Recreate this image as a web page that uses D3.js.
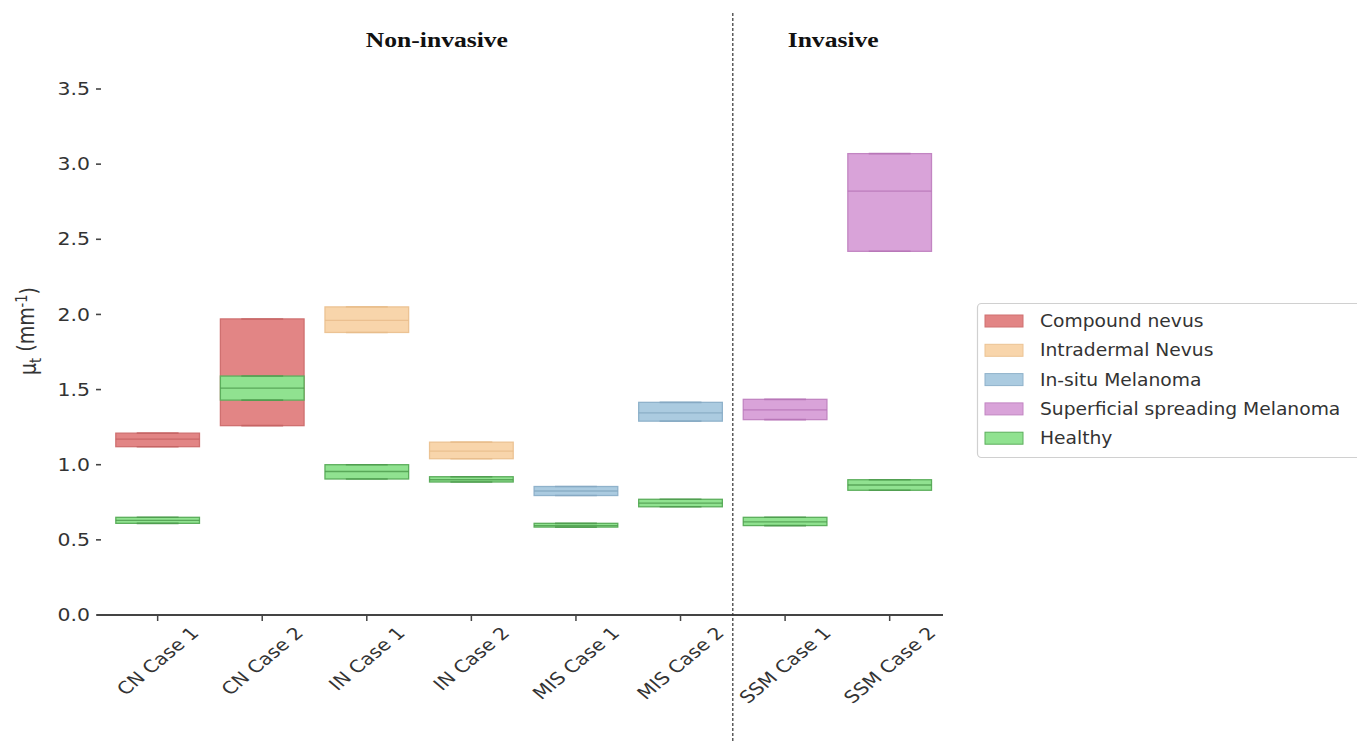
<!DOCTYPE html>
<html>
<head>
<meta charset="utf-8">
<script src="https://cdn.jsdelivr.net/npm/d3@7"></script>
<style>
  html, body { margin: 0; padding: 0; background: #fff; }
  svg { display: block; }
  text { font-family: "DejaVu Sans", sans-serif; fill: #333; }
</style>
</head>
<body>
<svg id="chart" width="1357" height="742"></svg>
<script>
// Attenuation coefficient per case: lesion box (q1, median, q3) and healthy skin box.
const cases = ["CN Case 1", "CN Case 2", "IN Case 1", "IN Case 2",
               "MIS Case 1", "MIS Case 2", "SSM Case 1", "SSM Case 2"];
const lesionType = ["Compound nevus", "Compound nevus", "Intradermal Nevus", "Intradermal Nevus",
                    "In-situ Melanoma", "In-situ Melanoma",
                    "Superficial spreading Melanoma", "Superficial spreading Melanoma"];
const lesionQ1  = [1.12, 1.26, 1.88, 1.04, 0.795, 1.29, 1.30, 2.42];
const lesionMed = [1.17, 1.55, 1.96, 1.09, 0.825, 1.345, 1.365, 2.82];
const lesionQ3  = [1.21, 1.97, 2.05, 1.15, 0.855, 1.415, 1.435, 3.07];
const healthyQ1  = [0.61, 1.43, 0.905, 0.885, 0.585, 0.72, 0.595, 0.83];
const healthyMed = [0.63, 1.51, 0.955, 0.90, 0.595, 0.745, 0.62, 0.865];
const healthyQ3  = [0.65, 1.59, 1.00, 0.92, 0.61, 0.77, 0.65, 0.90];
const yTicks = [0.0, 0.5, 1.0, 1.5, 2.0, 2.5, 3.0, 3.5];
const legendLabels = ["Compound nevus", "Intradermal Nevus", "In-situ Melanoma",
                      "Superficial spreading Melanoma", "Healthy"];
const sections = ["Non-invasive", "Invasive"];

const fills = {
  "Compound nevus": "#e28585",
  "Intradermal Nevus": "#f8d5ab",
  "In-situ Melanoma": "#abcbe0",
  "Superficial spreading Melanoma": "#d9a3d9",
  "Healthy": "#90e290"
};
const edges = {
  "Compound nevus": "#cf7070",
  "Intradermal Nevus": "#ecc394",
  "In-situ Melanoma": "#8fb2cb",
  "Superficial spreading Melanoma": "#c285c2",
  "Healthy": "#5cae5c"
};
const meds = {
  "Compound nevus": "#c46262",
  "Intradermal Nevus": "#e8bc8a",
  "In-situ Melanoma": "#84a8c2",
  "Superficial spreading Melanoma": "#b673b6",
  "Healthy": "#4c9a4c"
};

const SX = 1.2; // horizontal text stretch
const svg = d3.select("#chart");

const x = d3.scaleLinear().domain([0.42, 8.51]).range([97, 943]);
const y = d3.scaleLinear().domain([0, 3.5]).range([615, 89]);
const boxW = x(0.8) - x(0);

// rows for drawing
const lesionRows = cases.map((c, i) => ({pos: i + 1, type: lesionType[i], q1: lesionQ1[i], med: lesionMed[i], q3: lesionQ3[i]}));
const healthyRows = cases.map((c, i) => ({pos: i + 1, type: "Healthy", q1: healthyQ1[i], med: healthyMed[i], q3: healthyQ3[i]}));

function drawBoxes(rows, cls) {
  const g = svg.append("g").attr("class", cls);
  const b = g.selectAll("g").data(rows).join("g");
  b.append("rect")
    .attr("x", d => x(d.pos) - boxW / 2)
    .attr("y", d => y(d.q3))
    .attr("width", boxW)
    .attr("height", d => y(d.q1) - y(d.q3))
    .attr("fill", d => fills[d.type])
    .attr("stroke", d => edges[d.type])
    .attr("stroke-width", 1.3);
  b.append("line")
    .attr("x1", d => x(d.pos) - boxW / 2).attr("x2", d => x(d.pos) + boxW / 2)
    .attr("y1", d => y(d.med)).attr("y2", d => y(d.med))
    .attr("stroke", d => meds[d.type]).attr("stroke-width", 1.3).attr("opacity", 0.8);
  // caps coincide with box edges
  ["q1", "q3"].forEach(k => {
    b.append("line")
      .attr("x1", d => x(d.pos) - boxW / 4).attr("x2", d => x(d.pos) + boxW / 4)
      .attr("y1", d => y(d[k])).attr("y2", d => y(d[k]))
      .attr("stroke", d => meds[d.type]).attr("stroke-width", 1.6).attr("opacity", 0.8);
  });
}
drawBoxes(lesionRows, "lesion");
drawBoxes(healthyRows, "healthy");

// bottom spine and ticks
svg.append("line").attr("x1", 97).attr("x2", 943).attr("y1", y(0)).attr("y2", y(0))
  .attr("stroke", "#444").attr("stroke-width", 2);
svg.append("g").selectAll("line").data(cases).join("line")
  .attr("x1", (d, i) => x(i + 1)).attr("x2", (d, i) => x(i + 1))
  .attr("y1", y(0)).attr("y2", y(0) + 6)
  .attr("stroke", "#444").attr("stroke-width", 1.5);

// x tick labels, rotated 45 degrees and centred under each tick
const xl = svg.append("g").selectAll("g").data(cases).join("g");
xl.append("text")
  .attr("text-anchor", "middle")
  .attr("dominant-baseline", "central")
  .style("font-size", "17px")
  .text(d => d);
xl.attr("transform", function(d, i) {
  const L = this.querySelector("text").getComputedTextLength();
  const half = (L + 17) * Math.SQRT1_2 / 2;
  return `translate(${x(i + 1)},${y(0) + 9 + half}) scale(${SX},1) rotate(-45)`;
});

// y ticks and labels
svg.append("g").selectAll("line").data(yTicks).join("line")
  .attr("x1", 96).attr("x2", 101)
  .attr("y1", d => y(d)).attr("y2", d => y(d))
  .attr("stroke", "#444").attr("stroke-width", 1.6);
svg.append("g").selectAll("text").data(yTicks).join("text")
  .attr("transform", d => `translate(90,${y(d)}) scale(${SX},1)`)
  .attr("text-anchor", "end")
  .attr("dy", "0.36em")
  .style("font-size", "17px")
  .text(d => d3.format(".1f")(d));

// y axis title
const yt = svg.append("text")
  .attr("transform", `translate(36,331) scale(${SX},1) rotate(-90)`)
  .attr("text-anchor", "middle")
  .style("font-size", "19px");
yt.append("tspan").text("μ");
yt.append("tspan").attr("dy", "0.3em").style("font-size", "13px").text("t");
yt.append("tspan").attr("dy", "-0.3em").text(" (mm");
yt.append("tspan").attr("dy", "-0.45em").style("font-size", "13px").text("-1");
yt.append("tspan").attr("dy", "0.45em").text(")");

// separator between non-invasive and invasive cases
svg.append("line")
  .attr("x1", x(6.5)).attr("x2", x(6.5)).attr("y1", 13).attr("y2", 742)
  .attr("stroke", "#333").attr("stroke-width", 1.2).attr("stroke-dasharray", "3,2");

// section headers
const secPos = [3.67, 7.46];
svg.append("g").selectAll("text").data(sections).join("text")
  .attr("transform", (d, i) => `translate(${x(secPos[i])},47) scale(1.22,1)`)
  .attr("text-anchor", "middle")
  .style("font-family", "'Liberation Serif', serif")
  .style("font-weight", "bold")
  .style("font-size", "21px")
  .style("fill", "#111")
  .text(d => d);

// legend
const lg = svg.append("g");
lg.append("rect").attr("x", 977.5).attr("y", 303.5).attr("width", 400).attr("height", 154)
  .attr("rx", 4).attr("fill", "#fff").attr("stroke", "#d0d0d0").attr("stroke-width", 1.2);
const items = lg.selectAll("g").data(legendLabels).join("g")
  .attr("transform", (d, i) => `translate(0,${321 + i * 29.3})`);
items.append("rect").attr("x", 985).attr("y", -6).attr("width", 38).attr("height", 12)
  .attr("fill", d => fills[d]).attr("stroke", d => edges[d]).attr("stroke-width", 1);
items.append("text")
  .attr("transform", `translate(1040,0) scale(1.1,1)`)
  .attr("dy", "0.36em")
  .style("font-size", "17px")
  .text(d => d);
</script>
</body>
</html>
